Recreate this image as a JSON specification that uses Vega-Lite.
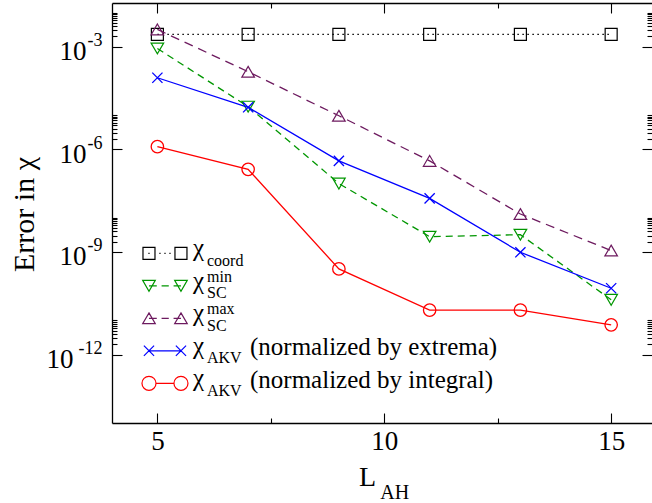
{
  "$schema": "https://vega.github.io/schema/vega-lite/v6.json",
  "width": 540,
  "height": 420,
  "autosize": {"type": "none"},
  "padding": {"left": 112, "top": 3, "right": 0, "bottom": 80},
  "config": {
    "view": {"stroke": null},
    "font": "Liberation Serif",
    "axis": {"grid": false, "domainColor": "#000000", "domainWidth": 1.3, "tickColor": "#000000", "tickWidth": 1.1, "labelColor": "#000000", "titleColor": "#000000", "labelFont": "Liberation Serif", "titleFont": "Liberation Serif", "titleFontWeight": "normal", "labelFlush": false, "labelOverlap": false}
  },
  "datasets": {
    "errors": [
      {"series": "coord", "L": 5, "err": 2.3e-3},
      {"series": "coord", "L": 7, "err": 2.3e-3},
      {"series": "coord", "L": 9, "err": 2.3e-3},
      {"series": "coord", "L": 11, "err": 2.3e-3},
      {"series": "coord", "L": 13, "err": 2.3e-3},
      {"series": "coord", "L": 15, "err": 2.3e-3},
      {"series": "min", "L": 5, "err": 8.9e-4},
      {"series": "min", "L": 7, "err": 1.77e-5},
      {"series": "min", "L": 9, "err": 1.0e-7},
      {"series": "min", "L": 11, "err": 2.8e-9},
      {"series": "min", "L": 13, "err": 3.2e-9},
      {"series": "min", "L": 15, "err": 4.0e-11},
      {"series": "max", "L": 5, "err": 3.2e-3},
      {"series": "max", "L": 7, "err": 1.86e-4},
      {"series": "max", "L": 9, "err": 9.6e-6},
      {"series": "max", "L": 11, "err": 4.6e-7},
      {"series": "max", "L": 13, "err": 1.29e-8},
      {"series": "max", "L": 15, "err": 1.1e-9},
      {"series": "ext", "L": 5, "err": 1.24e-4},
      {"series": "ext", "L": 7, "err": 1.7e-5},
      {"series": "ext", "L": 9, "err": 4.6e-7},
      {"series": "ext", "L": 11, "err": 3.7e-8},
      {"series": "ext", "L": 13, "err": 9.8e-10},
      {"series": "ext", "L": 15, "err": 8.7e-11},
      {"series": "int", "L": 5, "err": 1.2e-6},
      {"series": "int", "L": 7, "err": 2.6e-7},
      {"series": "int", "L": 9, "err": 3.2e-10},
      {"series": "int", "L": 11, "err": 2.0e-11},
      {"series": "int", "L": 13, "err": 2.0e-11},
      {"series": "int", "L": 15, "err": 7.4e-12}
    ],
    "key": [
      {"series": "coord", "sub": "coord", "sup": "", "desc": ""},
      {"series": "min", "sub": "SC", "sup": "min", "desc": ""},
      {"series": "max", "sub": "SC", "sup": "max", "desc": ""},
      {"series": "ext", "sub": "AKV", "sup": "", "desc": "(normalized by extrema)"},
      {"series": "int", "sub": "AKV", "sup": "", "desc": "(normalized by integral)"}
    ]
  },
  "data": {"name": "errors"},
  "layer": [
    {
      "transform": [{"filter": "datum.series === 'coord'"}],
      "mark": {"type": "line", "color": "#000000", "strokeWidth": 1.3, "strokeDash": [1.5, 3.5]},
      "encoding": {
        "x": {"field": "L", "type": "quantitative", "scale": {"domain": [4, 15.9], "nice": false, "zero": false},
          "axis": {"orient": "bottom", "values": [5, 10, 15], "ticks": false, "domain": true, "labelFont": "Liberation Serif", "labelFontSize": 27, "labelPadding": 5, "title": "L", "titleFont": "Liberation Serif", "titleFontSize": 28, "titleX": 255, "titleY": 62, "titleAlign": "center", "titleBaseline": "alphabetic"}},
        "y": {"field": "err", "type": "quantitative", "scale": {"type": "log", "domain": [1e-14, 0.019], "nice": false},
          "axis": {"orient": "left", "values": [1e-3, 1e-6, 1e-9], "labelExpr": "'10'", "ticks": false, "domain": true, "labelFont": "Liberation Serif", "labelFontSize": 27, "labelPadding": 26, "labelOffset": 5, "labelAlign": "right", "labelBaseline": "middle",
            "title": "Error in χ", "titleFont": "Liberation Serif, DejaVu Serif", "titleFontSize": 30, "titleAngle": 270, "titleX": -79, "titleY": 211, "titleAlign": "center", "titleBaseline": "alphabetic"}}
      }
    },
    {
      "transform": [{"filter": "datum.series === 'coord'"}],
      "mark": {"type": "point", "shape": "M-1,-1H1V1H-1Z", "size": 144, "filled": false, "stroke": "#000000", "strokeWidth": 1.2, "opacity": 1},
      "encoding": {
        "x": {"field": "L", "type": "quantitative", "scale": {"domain": [4, 15.9], "nice": false, "zero": false},
          "axis": {"orient": "bottom", "values": [5, 10, 15], "labels": false, "tickSize": -10, "domain": false, "title": "AH", "titleFont": "Liberation Serif", "titleFontSize": 20, "titleX": 282.3, "titleY": 75, "titleAlign": "center", "titleBaseline": "alphabetic"}},
        "y": {"field": "err", "type": "quantitative", "scale": {"type": "log", "domain": [1e-14, 0.019], "nice": false},
          "axis": {"orient": "left", "values": [1e-3, 1e-6, 1e-9, 1e-12], "labelExpr": "datum.value < 1e-10 ? '-12' : datum.value < 1e-7 ? '-9' : datum.value < 1e-4 ? '-6' : '-3'", "ticks": false, "domain": false, "labelFont": "Liberation Serif", "labelFontSize": 18, "labelPadding": 10, "labelOffset": -6, "labelAlign": "right", "labelBaseline": "middle", "title": null}}
      }
    },
    {
      "transform": [{"filter": "datum.series === 'min'"}],
      "mark": {"type": "line", "color": "#009600", "strokeWidth": 1.3, "strokeDash": [7, 5]},
      "encoding": {
        "x": {"field": "L", "type": "quantitative", "scale": {"domain": [4, 15.9], "nice": false, "zero": false},
          "axis": {"orient": "bottom", "values": [7.5, 12.5], "labels": false, "tickSize": -5, "domain": false, "title": null}},
        "y": {"field": "err", "type": "quantitative", "scale": {"type": "log", "domain": [1e-14, 0.019], "nice": false},
          "axis": {"orient": "left", "values": [2e-3, 3e-3, 4e-3, 5e-3, 6e-3, 7e-3, 8e-3, 9e-3, 1e-2, 2e-6, 3e-6, 4e-6, 5e-6, 6e-6, 7e-6, 8e-6, 9e-6, 1e-5, 2e-9, 3e-9, 4e-9, 5e-9, 6e-9, 7e-9, 8e-9, 9e-9, 1e-8, 2e-12, 3e-12, 4e-12, 5e-12, 6e-12, 7e-12, 8e-12, 9e-12, 1e-11], "labels": false, "tickSize": -5, "domain": false, "title": null}}
      }
    },
    {
      "transform": [{"filter": "datum.series === 'min'"}],
      "mark": {"type": "point", "shape": "M-1.05,-0.9L1.05,-0.9L0,0.9Z", "size": 144, "filled": false, "stroke": "#009600", "strokeWidth": 1.2, "opacity": 1},
      "encoding": {
        "x": {"field": "L", "type": "quantitative", "scale": {"domain": [4, 15.9], "nice": false, "zero": false},
          "axis": {"orient": "top", "values": [5, 10, 15], "labels": false, "tickSize": -10, "domain": true, "title": null}},
        "y": {"field": "err", "type": "quantitative", "scale": {"type": "log", "domain": [1e-14, 0.019], "nice": false},
          "axis": {"orient": "left", "values": [1e-3, 1e-6, 1e-9, 1e-12], "labels": false, "tickSize": -10, "domain": false, "title": null}}
      }
    },
    {
      "transform": [{"filter": "datum.series === 'max'"}],
      "mark": {"type": "line", "color": "#6d1a5f", "strokeWidth": 1.3, "strokeDash": [9, 6]},
      "encoding": {
        "x": {"field": "L", "type": "quantitative", "scale": {"domain": [4, 15.9], "nice": false, "zero": false},
          "axis": {"orient": "top", "values": [7.5, 12.5], "labels": false, "tickSize": -5, "domain": false, "title": null}},
        "y": {"field": "err", "type": "quantitative", "scale": {"type": "log", "domain": [1e-14, 0.019], "nice": false},
          "axis": {"orient": "right", "values": [1e-3, 1e-6, 1e-9, 1e-12], "labels": false, "tickSize": -10, "domain": false, "title": null}}
      }
    },
    {
      "transform": [{"filter": "datum.series === 'max'"}],
      "mark": {"type": "point", "shape": "M0,-0.9L1.05,0.9L-1.05,0.9Z", "size": 144, "filled": false, "stroke": "#6d1a5f", "strokeWidth": 1.2, "opacity": 1},
      "encoding": {
        "x": {"field": "L", "type": "quantitative", "scale": {"domain": [4, 15.9], "nice": false, "zero": false}, "axis": null},
        "y": {"field": "err", "type": "quantitative", "scale": {"type": "log", "domain": [1e-14, 0.019], "nice": false},
          "axis": {"orient": "right", "values": [2e-3, 3e-3, 4e-3, 5e-3, 6e-3, 7e-3, 8e-3, 9e-3, 1e-2, 2e-6, 3e-6, 4e-6, 5e-6, 6e-6, 7e-6, 8e-6, 9e-6, 1e-5, 2e-9, 3e-9, 4e-9, 5e-9, 6e-9, 7e-9, 8e-9, 9e-9, 1e-8, 2e-12, 3e-12, 4e-12, 5e-12, 6e-12, 7e-12, 8e-12, 9e-12, 1e-11], "labels": false, "tickSize": -5, "domain": false, "title": null}}
      }
    },
    {
      "transform": [{"filter": "datum.series === 'ext'"}],
      "mark": {"type": "line", "color": "#0000ff", "strokeWidth": 1.3},
      "encoding": {
        "x": {"field": "L", "type": "quantitative", "scale": {"domain": [4, 15.9], "nice": false, "zero": false}, "axis": null},
        "y": {"field": "err", "type": "quantitative", "scale": {"type": "log", "domain": [1e-14, 0.019], "nice": false},
          "axis": {"orient": "left", "values": [1e-12], "labelExpr": "'10'", "ticks": false, "domain": false, "labelFont": "Liberation Serif", "labelFontSize": 27, "labelPadding": 39, "labelOffset": 5, "labelAlign": "right", "labelBaseline": "middle", "title": null}}
      }
    },
    {
      "transform": [{"filter": "datum.series === 'ext'"}],
      "mark": {"type": "point", "shape": "M-0.85,-0.85L0.85,0.85M-0.85,0.85L0.85,-0.85", "size": 144, "filled": false, "stroke": "#0000ff", "strokeWidth": 1.3, "opacity": 1},
      "encoding": {
        "x": {"field": "L", "type": "quantitative", "scale": {"domain": [4, 15.9], "nice": false, "zero": false}, "axis": null},
        "y": {"field": "err", "type": "quantitative", "scale": {"type": "log", "domain": [1e-14, 0.019], "nice": false}, "axis": null}
      }
    },
    {
      "transform": [{"filter": "datum.series === 'int'"}],
      "mark": {"type": "line", "color": "#ff0000", "strokeWidth": 1.3},
      "encoding": {
        "x": {"field": "L", "type": "quantitative", "scale": {"domain": [4, 15.9], "nice": false, "zero": false}, "axis": null},
        "y": {"field": "err", "type": "quantitative", "scale": {"type": "log", "domain": [1e-14, 0.019], "nice": false}, "axis": null}
      }
    },
    {
      "transform": [{"filter": "datum.series === 'int'"}],
      "mark": {"type": "point", "shape": "circle", "size": 154, "filled": false, "stroke": "#ff0000", "strokeWidth": 1.3, "opacity": 1},
      "encoding": {
        "x": {"field": "L", "type": "quantitative", "scale": {"domain": [4, 15.9], "nice": false, "zero": false}, "axis": null},
        "y": {"field": "err", "type": "quantitative", "scale": {"type": "log", "domain": [1e-14, 0.019], "nice": false}, "axis": null}
      }
    },
    {
      "data": {"name": "key"},
      "mark": {"type": "point", "filled": false, "strokeWidth": 1.2, "size": 144, "opacity": 1},
      "encoding": {
        "x": {"datum": 4.815, "type": "quantitative", "scale": {"domain": [4, 15.9], "nice": false, "zero": false}, "axis": null},
        "y": {"field": "series", "type": "nominal", "scale": {"type": "point", "domain": ["coord", "min", "max", "ext", "int"], "range": [250.3, 380.3], "padding": 0}, "axis": null},
        "shape": {"field": "series", "type": "nominal", "legend": null,
          "scale": {"domain": ["coord", "min", "max", "ext", "int"], "range": [
            "M-1,-1H1V1H-1ZM4.33,-1H6.33V1H4.33ZM-0.1,0H0.1M1.73,0H1.93M2.57,0H2.77M3.4,0H3.6",
            "M-1.05,-0.9L1.05,-0.9L0,0.9ZM4.28,-0.9L6.38,-0.9L5.33,0.9ZM0,0H1.3M2.1,0H3.3M4.1,0H5.33",
            "M0,-0.9L1.05,0.9L-1.05,0.9ZM5.33,-0.9L6.38,0.9L4.28,0.9ZM0,0H1.3M2.1,0H3.3M4.1,0H5.33",
            "M-0.85,-0.85L0.85,0.85M-0.85,0.85L0.85,-0.85M4.48,-0.85L6.18,0.85M4.48,0.85L6.18,-0.85M0,0H5.33",
            "M-1.17,0A1.17,1.17 0 1,0 1.17,0A1.17,1.17 0 1,0 -1.17,0M4.16,0A1.17,1.17 0 1,0 6.5,0A1.17,1.17 0 1,0 4.16,0M1.17,0H4.16"
          ]}},
        "color": {"field": "series", "type": "nominal", "legend": null,
          "scale": {"domain": ["coord", "min", "max", "ext", "int"], "range": ["#000000", "#009600", "#6d1a5f", "#0000ff", "#ff0000"]}}
      }
    },
    {
      "data": {"name": "key"},
      "mark": {"type": "text", "text": "χ", "font": "Liberation Serif, DejaVu Serif", "fontSize": 25, "align": "left", "baseline": "alphabetic", "dy": 3, "color": "#000000"},
      "encoding": {
        "x": {"datum": 5.785, "type": "quantitative", "scale": {"domain": [4, 15.9], "nice": false, "zero": false}, "axis": null},
        "y": {"field": "series", "type": "nominal", "scale": {"type": "point", "domain": ["coord", "min", "max", "ext", "int"], "range": [250.3, 380.3], "padding": 0}, "axis": null}
      }
    },
    {
      "data": {"name": "key"},
      "mark": {"type": "text", "font": "Liberation Serif", "fontSize": 16, "align": "left", "baseline": "alphabetic", "dy": 12.2, "color": "#000000"},
      "encoding": {
        "x": {"datum": 6.0935, "type": "quantitative", "scale": {"domain": [4, 15.9], "nice": false, "zero": false}, "axis": null},
        "y": {"field": "series", "type": "nominal", "scale": {"type": "point", "domain": ["coord", "min", "max", "ext", "int"], "range": [250.3, 380.3], "padding": 0}, "axis": null},
        "text": {"field": "sub"}
      }
    },
    {
      "data": {"name": "key"},
      "mark": {"type": "text", "font": "Liberation Serif", "fontSize": 16, "align": "left", "baseline": "alphabetic", "dy": -4, "color": "#000000"},
      "encoding": {
        "x": {"datum": 6.0935, "type": "quantitative", "scale": {"domain": [4, 15.9], "nice": false, "zero": false}, "axis": null},
        "y": {"field": "series", "type": "nominal", "scale": {"type": "point", "domain": ["coord", "min", "max", "ext", "int"], "range": [250.3, 380.3], "padding": 0}, "axis": null},
        "text": {"field": "sup"}
      }
    },
    {
      "data": {"name": "key"},
      "mark": {"type": "text", "font": "Liberation Serif", "fontSize": 25, "align": "left", "baseline": "alphabetic", "dy": 4.5, "color": "#000000"},
      "encoding": {
        "x": {"datum": 7.041, "type": "quantitative", "scale": {"domain": [4, 15.9], "nice": false, "zero": false}, "axis": null},
        "y": {"field": "series", "type": "nominal", "scale": {"type": "point", "domain": ["coord", "min", "max", "ext", "int"], "range": [250.3, 380.3], "padding": 0}, "axis": null},
        "text": {"field": "desc"}
      }
    }
  ],
  "resolve": {"axis": {"x": "independent", "y": "independent"}, "scale": {"y": "independent"}}
}
